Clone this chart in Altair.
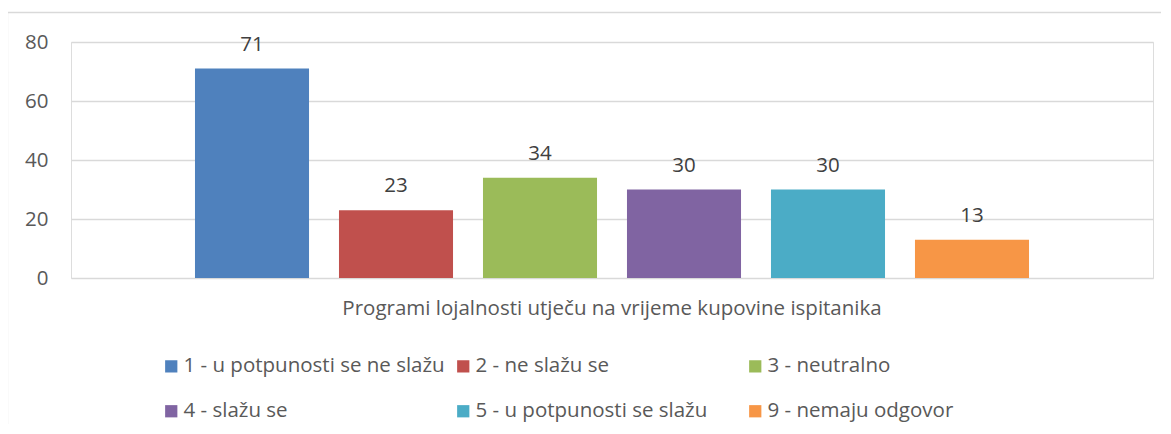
import altair as alt
import pandas as pd

category = ["Programi lojalnosti utječu na vrijeme kupovine ispitanika"]
series = [
    "1 - u potpunosti se ne slažu",
    "2 - ne slažu se",
    "3 - neutralno",
    "4 - slažu se",
    "5 - u potpunosti se slažu",
    "9 - nemaju odgovor",
]
values = [71, 23, 34, 30, 30, 13]
colors = ["#4F81BD", "#C0504D", "#9BBB59", "#8064A2", "#4BACC6", "#F79646"]
y_ticks = [0, 20, 40, 60, 80]

df = pd.DataFrame({
    "kategorija": category * len(series),
    "odgovor": series,
    "broj": values,
})

FONT = "Open Sans"
GRAY = "#595959"
FS = 20.5

base = alt.Chart(df).encode(
    x=alt.X(
        "kategorija:N",
        title=None,
        scale=alt.Scale(paddingInner=0, paddingOuter=0),
        axis=alt.Axis(labelAngle=0, domain=False, ticks=False, labelPadding=20,
                      labelFontSize=FS, labelColor=GRAY, labelFont=FONT, grid=False,
                      labelLimit=0),
    ),
    xOffset=alt.XOffset("odgovor:N", sort=series,
                        scale=alt.Scale(paddingInner=0.208, paddingOuter=0.861)),
    y=alt.Y(
        "broj:Q",
        title=None,
        scale=alt.Scale(domain=[0, 80]),
        axis=alt.Axis(values=y_ticks, domain=False, ticks=False, labelPadding=23,
                      labelFontSize=FS, labelColor=GRAY, labelFont=FONT,
                      gridColor="#d9d9d9", gridWidth=1.3),
    ),
)

bars = base.mark_bar().encode(
    color=alt.Color(
        "odgovor:N",
        sort=series,
        scale=alt.Scale(domain=series, range=colors),
        legend=alt.Legend(
            title=None, orient="none", legendX=90, legendY=314, columns=3,
            direction="horizontal", symbolType="square", symbolSize=150,
            symbolStrokeWidth=0, columnPadding=8, rowPadding=24, labelOffset=2,
            gridAlign="all",
            labelFontSize=FS, labelColor=GRAY, labelFont=FONT, labelLimit=0,
        ),
    )
)

labels = base.mark_text(dy=-24, fontSize=FS, font=FONT, color="#404040").encode(
    text=alt.Text("broj:Q")
)

frame = alt.Chart(pd.DataFrame({"f": [0]})).mark_rect(
    fillOpacity=0, stroke="#d9d9d9", strokeWidth=1.3
).encode(
    x=alt.value(-63.5), x2=alt.value(1200), y=alt.value(-29.5), y2=alt.value(500)
)

chart = alt.layer(frame, bars, labels).properties(
    width=1082, height=236,
    autosize=alt.AutoSizeParams(type="none"),
    padding={"left": 63, "top": 34, "right": 8, "bottom": 146},
).configure_view(stroke=None).configure(font=FONT)

chart.save("out.html", embed_options={"renderer": "svg", "actions": False})
